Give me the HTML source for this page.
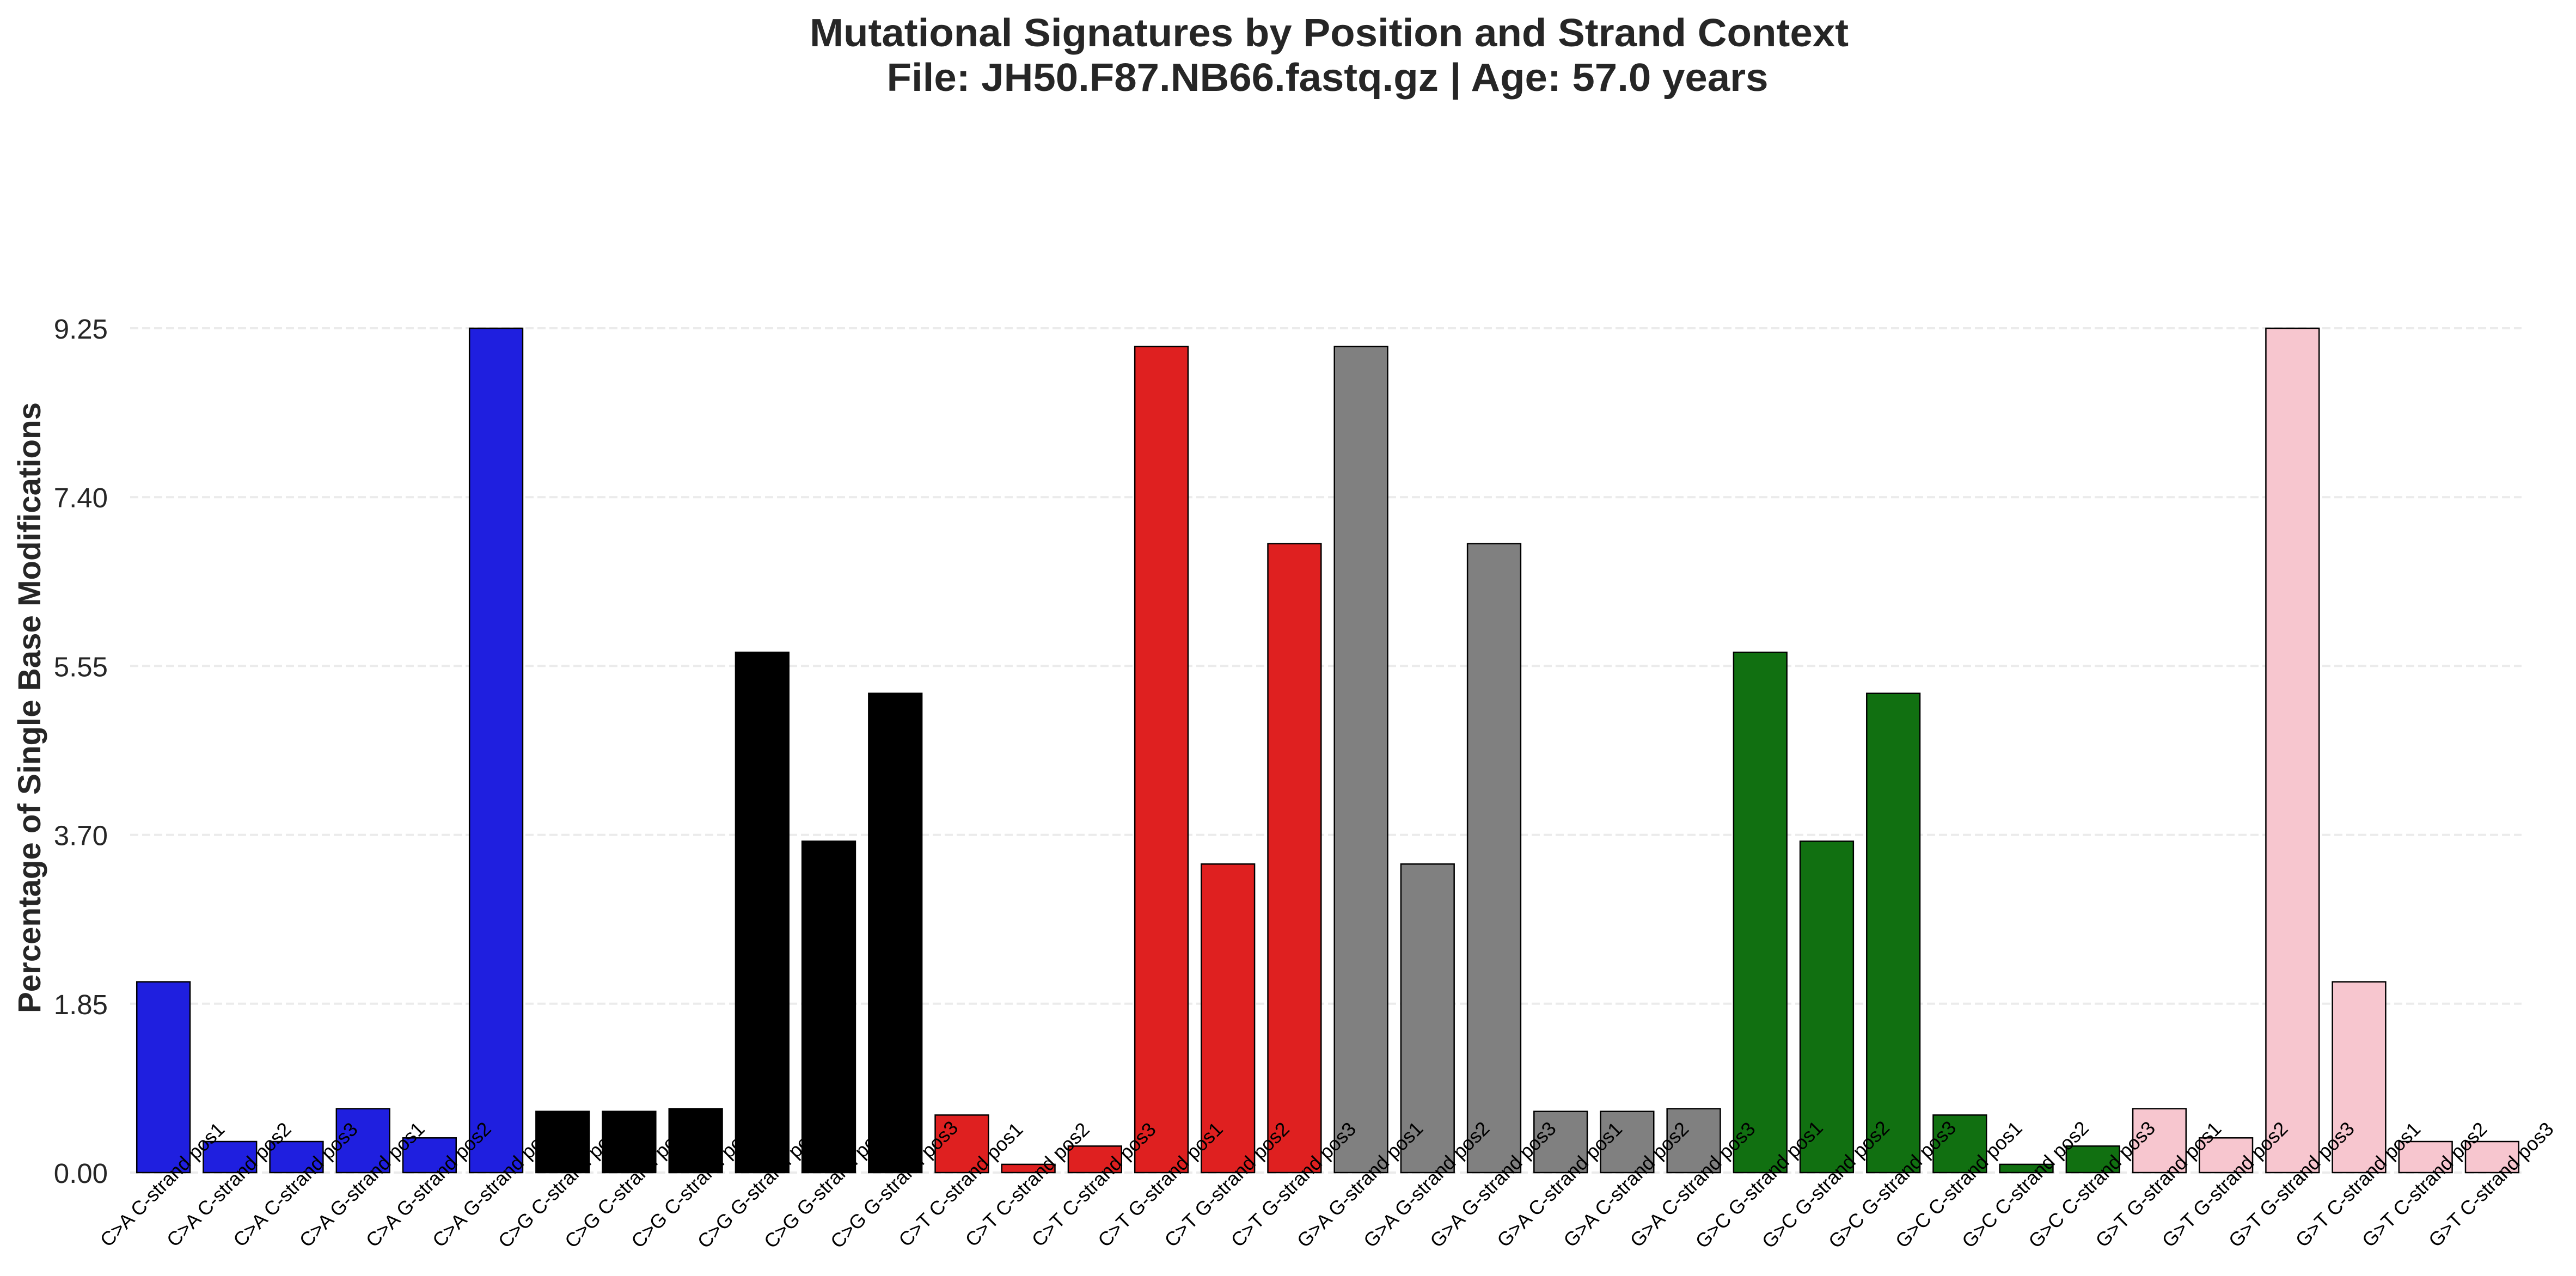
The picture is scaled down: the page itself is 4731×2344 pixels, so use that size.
<!DOCTYPE html>
<html><head><meta charset="utf-8"><style>
html,body{margin:0;padding:0;background:#fff;}
svg{display:block;font-family:"Liberation Sans",Arial,sans-serif;}
</style></head><body>
<svg id="chart" width="4731" height="2344" viewBox="0 0 4731 2344" xmlns="http://www.w3.org/2000/svg">
<rect width="4731" height="2344" fill="#fff"/>
<text x="2441" y="85" text-anchor="middle" font-weight="bold" font-size="72" fill="#262626" textLength="1908" lengthAdjust="spacingAndGlyphs">Mutational Signatures by Position and Strand Context</text>
<text x="2438" y="167" text-anchor="middle" font-weight="bold" font-size="72" fill="#262626" textLength="1619" lengthAdjust="spacingAndGlyphs">File: JH50.F87.NB66.fastq.gz | Age: 57.0 years</text>
<text transform="translate(74,1300) rotate(-90)" text-anchor="middle" font-weight="bold" font-size="58" fill="#262626" textLength="1122" lengthAdjust="spacingAndGlyphs">Percentage of Single Base Modifications</text>
<g id="grid"></g><g id="yticks"></g><g id="bars"></g><g id="xlabels"></g>
</svg>
<script>
const categories = ["C>A C-strand pos1","C>A C-strand pos2","C>A C-strand pos3","C>A G-strand pos1","C>A G-strand pos2","C>A G-strand pos3",
"C>G C-strand pos1","C>G C-strand pos2","C>G C-strand pos3","C>G G-strand pos1","C>G G-strand pos2","C>G G-strand pos3",
"C>T C-strand pos1","C>T C-strand pos2","C>T C-strand pos3","C>T G-strand pos1","C>T G-strand pos2","C>T G-strand pos3",
"G>A G-strand pos1","G>A G-strand pos2","G>A G-strand pos3","G>A C-strand pos1","G>A C-strand pos2","G>A C-strand pos3",
"G>C G-strand pos1","G>C G-strand pos2","G>C G-strand pos3","G>C C-strand pos1","G>C C-strand pos2","G>C C-strand pos3",
"G>T G-strand pos1","G>T G-strand pos2","G>T G-strand pos3","G>T C-strand pos1","G>T C-strand pos2","G>T C-strand pos3"];
const values = [2.09,0.34,0.34,0.70,0.38,9.25,
0.67,0.67,0.70,5.70,3.63,5.25,
0.63,0.09,0.29,9.05,3.38,6.89,
9.05,3.38,6.89,0.67,0.67,0.70,
5.70,3.63,5.25,0.63,0.09,0.29,
0.70,0.38,9.25,2.09,0.34,0.34];
const groupColors = ["#1f1fdf","#000000","#df2020","#808080","#117011","#f7c6cf"];
const yTicks = [0,1.85,3.70,5.55,7.40,9.25];
const yTickLabels = ["0.00","1.85","3.70","5.55","7.40","9.25"];

const NS="http://www.w3.org/2000/svg";
const X0=239, X1=4638, Y0=2154, Ytop=603, YMAX=9.25;
const band=(X1-X0)/categories.length;
const xc=i=>X0+band*(i+0.5);
const y=v=>Y0-(v/YMAX)*(Y0-Ytop);
function mk(tag,attrs,parent){const e=document.createElementNS(NS,tag);for(const k in attrs)e.setAttribute(k,attrs[k]);parent.appendChild(e);return e;}
const grid=document.getElementById('grid'),yt=document.getElementById('yticks'),bars=document.getElementById('bars'),xl=document.getElementById('xlabels');
yTicks.forEach((t,i)=>{
  const l=mk('line',{x1:X0,x2:4631,y1:y(t),y2:y(t),stroke:'#ebebeb','stroke-width':4,'stroke-dasharray':'15 7'},grid);
  
  
  const tx=mk('text',{x:198,y:y(t)+19,'text-anchor':'end','font-size':51,fill:'#262626'},yt);
  tx.textContent=yTickLabels[i];
  
  
});
values.forEach((v,i)=>{
  const w=band*0.8;
  const r=mk('rect',{x:xc(i)-w/2,y:y(v),width:w,height:Y0-y(v),fill:groupColors[Math.floor(i/6)],stroke:'#000','stroke-width':2.5},bars);
  
  
});
categories.forEach((c,i)=>{
  const t=mk('text',{transform:`translate(${xc(i)},2178) rotate(-45)`,'text-anchor':'middle','dominant-baseline':'middle','font-size':36,fill:'#000'},xl);
  t.textContent=c;
  
  
});
</script>
</body></html>
